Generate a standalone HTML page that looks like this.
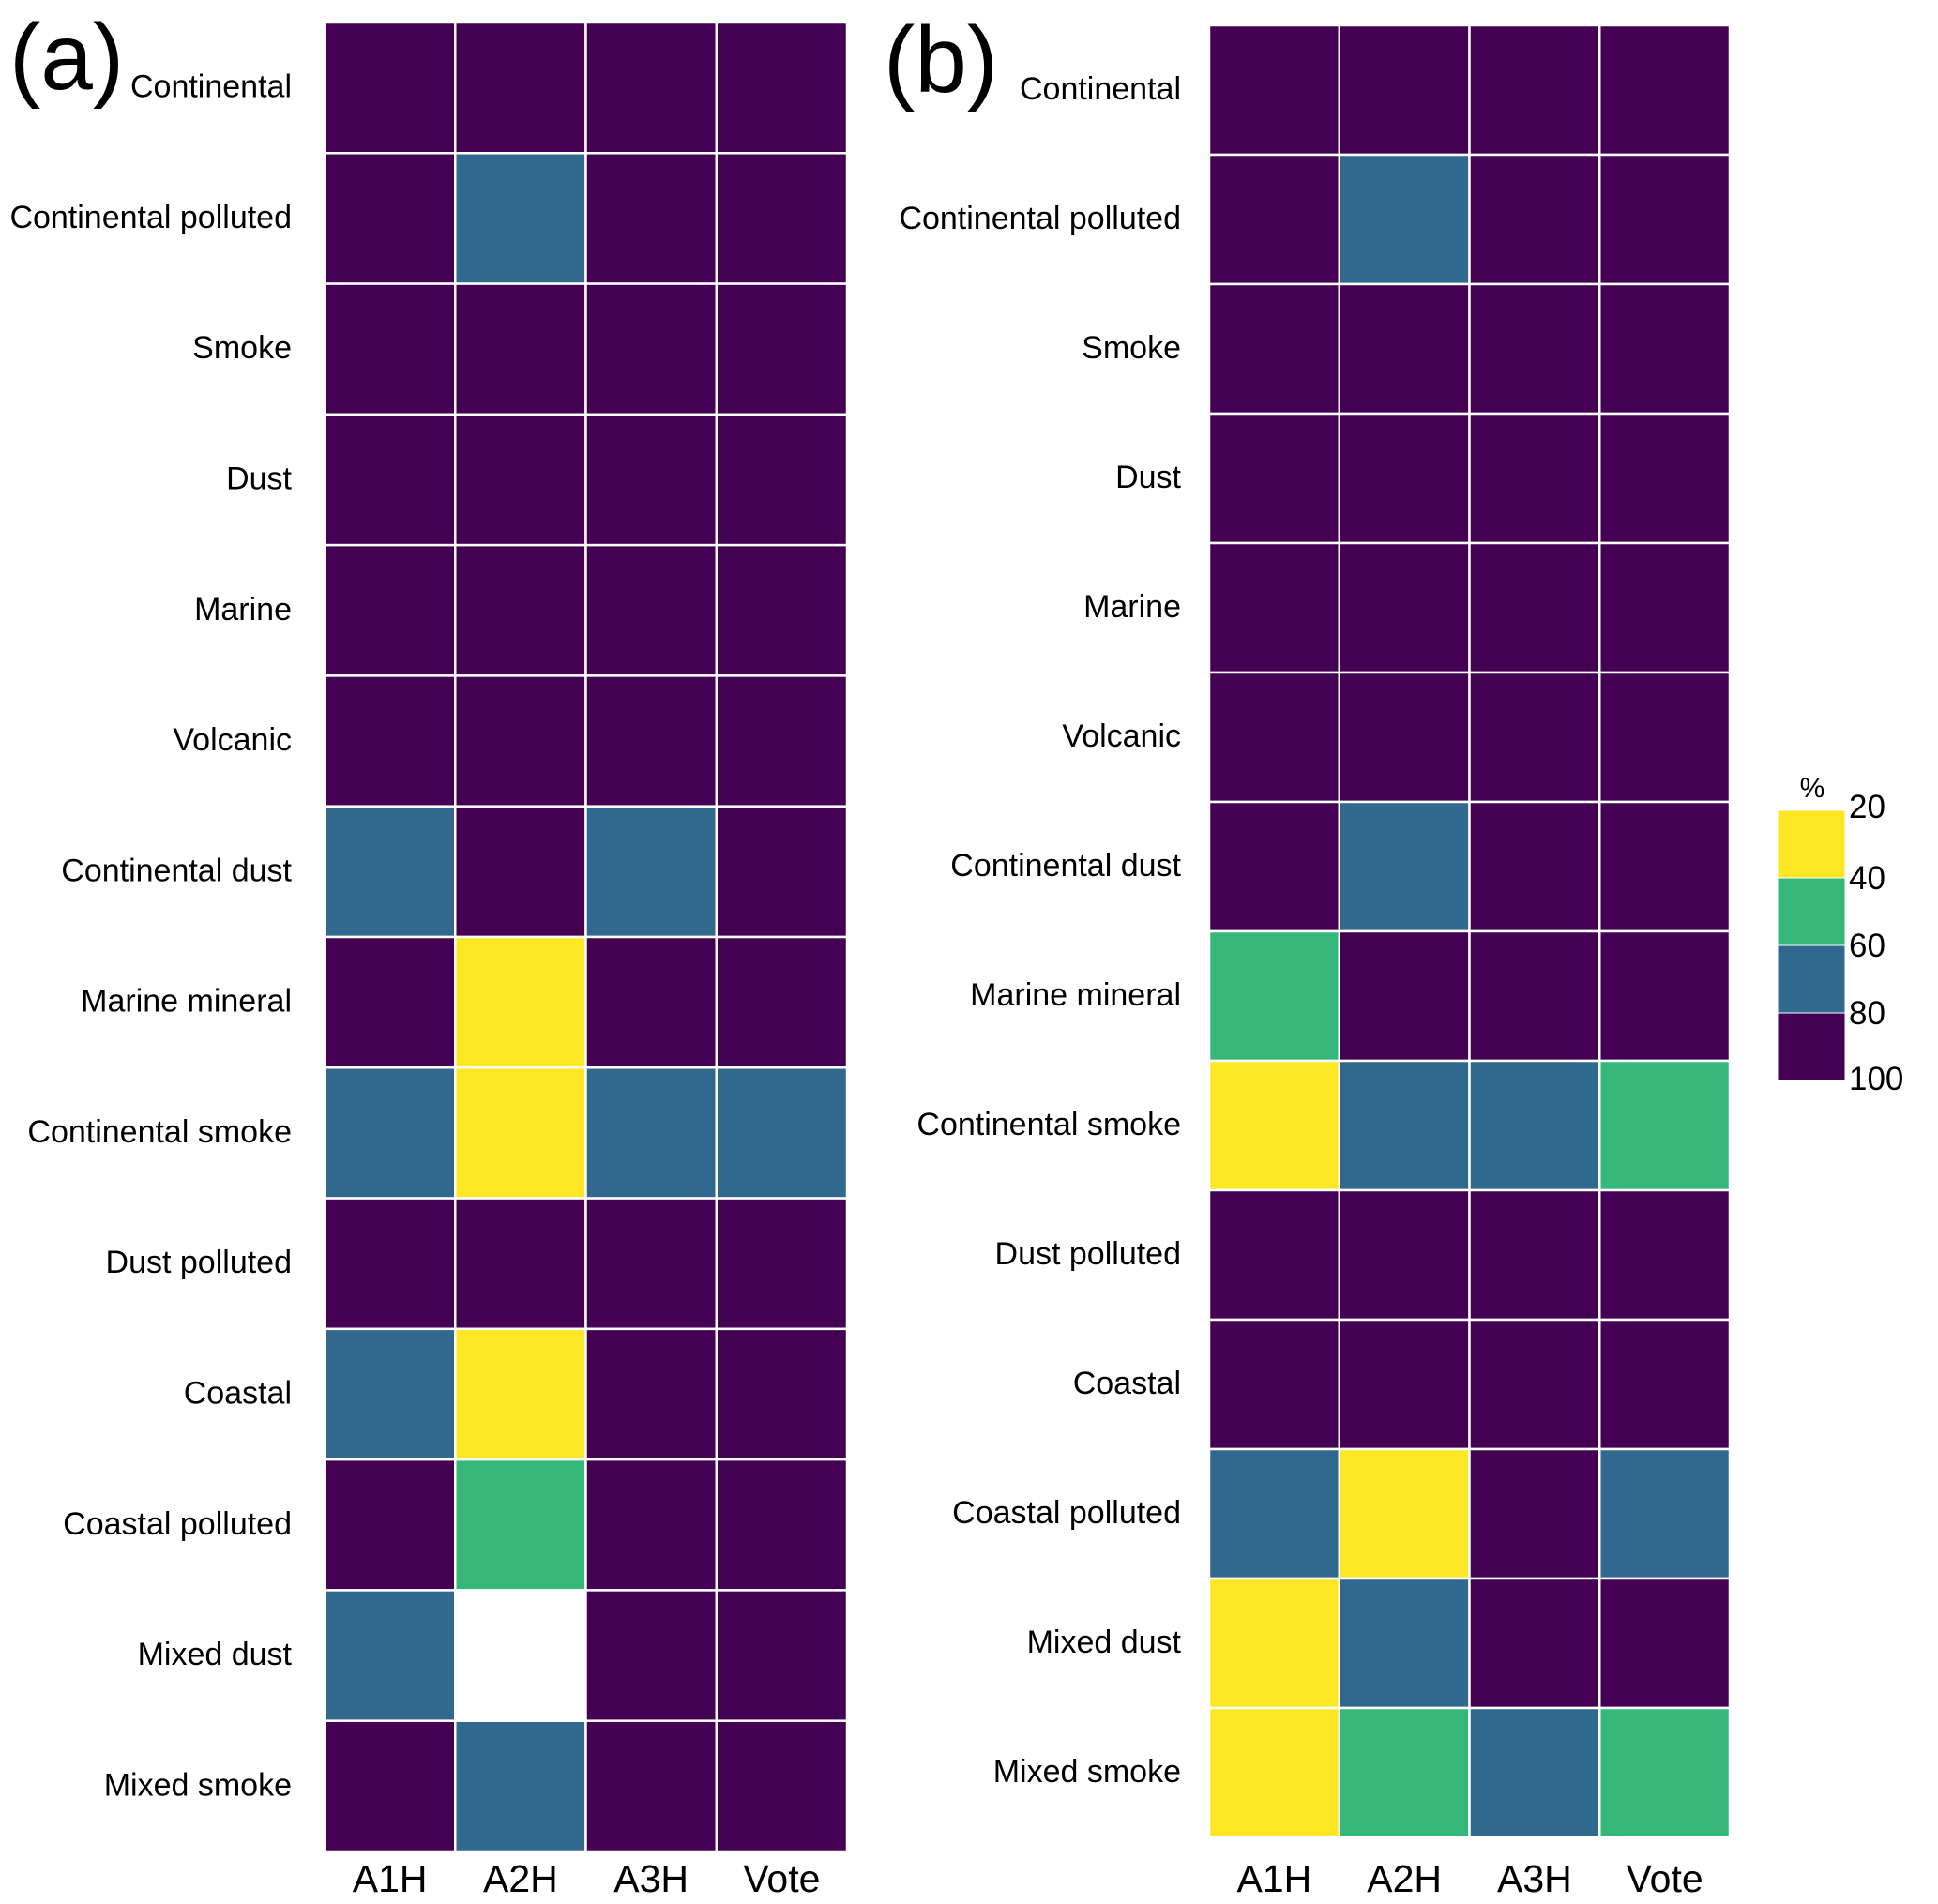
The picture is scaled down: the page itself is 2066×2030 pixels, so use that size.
<!DOCTYPE html>
<html><head><meta charset="utf-8">
<style>
html,body{margin:0;padding:0;background:#fff;}
svg{display:block;font-family:"Liberation Sans",Arial,sans-serif;}
</style></head>
<body>
<svg id="fig" width="2066" height="2030" viewBox="0 0 2066 2030" xmlns="http://www.w3.org/2000/svg">
<text x="10" y="95" font-size="100">(a)</text>
<text x="942" y="98" font-size="100">(b)</text>
<g id="panelA"></g>
<g id="panelB"></g>
<g id="cbar"></g>
</svg>
<script>
const rows = ["Continental","Continental polluted","Smoke","Dust","Marine ","Volcanic","Continental dust","Marine mineral ","Continental smoke","Dust polluted","Coastal","Coastal polluted","Mixed dust ","Mixed smoke "];
const cols = ["A1H","A2H","A3H","Vote"];
const valuesA = [
 [100,100,100,100],
 [100,70,100,100],
 [100,100,100,100],
 [100,100,100,100],
 [100,100,100,100],
 [100,100,100,100],
 [70,100,70,100],
 [100,30,100,100],
 [70,30,70,70],
 [100,100,100,100],
 [70,30,100,100],
 [100,50,100,100],
 [70,null,100,100],
 [100,70,100,100]
];
const valuesB = [
 [100,100,100,100],
 [100,70,100,100],
 [100,100,100,100],
 [100,100,100,100],
 [100,100,100,100],
 [100,100,100,100],
 [100,70,100,100],
 [50,100,100,100],
 [30,70,70,50],
 [100,100,100,100],
 [100,100,100,100],
 [70,30,100,70],
 [30,70,100,100],
 [30,50,70,50]
];
const cbTicks = [20,40,60,80,100];
const cbColors = ["#fde725","#35b779","#31688e","#440154"];
const NS = "http://www.w3.org/2000/svg";
function colorFor(v){
  if(v===null||v===undefined) return "#ffffff";
  let i = Math.floor((v-20)/20);
  i = Math.max(0,Math.min(3,i));
  return cbColors[i];
}
function mk(tag,attrs,parent){
  const e=document.createElementNS(NS,tag);
  for(const k in attrs) e.setAttribute(k,attrs[k]);
  parent.appendChild(e); return e;
}
function drawPanel(g,vals,x0,y0,x1,y1,labelRight,tag){
  const cw=(x1-x0)/cols.length, ch=(y1-y0)/rows.length;
  const xs=c=>x0+c*cw, ys=r=>y0+r*ch;
  rows.forEach((rn,r)=>{
    cols.forEach((cn,c)=>{
      const rect=mk("rect",{x:xs(c),y:ys(r),width:cw,height:ch,fill:colorFor(vals[r][c]),stroke:"#ffffff","stroke-width":2.5},g);
      
      
    });
    const t=mk("text",{x:labelRight,y:ys(r)+ch/2+10,"font-size":34,"text-anchor":"end","xml:space":"preserve"},g);
    t.textContent=rn;
    
    
  });
  cols.forEach((cn,c)=>{
    const t=mk("text",{x:xs(c)+cw/2,y:2017,"font-size":41,"text-anchor":"middle"},g);
    t.textContent=cn;
    
    
  });
}
drawPanel(document.getElementById("panelA"),valuesA,346,24,903,1974,311,"a");
drawPanel(document.getElementById("panelB"),valuesB,1289,27,1844,1959,1259,"b");
(function(){
  const g=document.getElementById("cbar");
  const bx=1895,bw=72,top=864,bot=1152;
  const ys=v=>top+(v-cbTicks[0])/(cbTicks[cbTicks.length-1]-cbTicks[0])*(bot-top);
  for(let i=0;i<cbColors.length;i++){
    const r=mk("rect",{x:bx,y:ys(cbTicks[i]),width:bw,height:ys(cbTicks[i+1])-ys(cbTicks[i]),fill:cbColors[i],stroke:"#ffffff","stroke-width":1},g);
    
    
  }
  cbTicks.forEach((v,i)=>{
    let y=ys(v)+12;
    if(i===0) y=ys(v)+8;
    if(i===cbTicks.length-1) y=ys(v)+10;
    const t=mk("text",{x:1971,y:y,"font-size":35},g);
    t.textContent=String(v);
    
    
  });
  const p=mk("text",{x:1932,y:850,"font-size":30,"text-anchor":"middle"},g);
  p.textContent="%";
  
  
})();
</script>
</body></html>
